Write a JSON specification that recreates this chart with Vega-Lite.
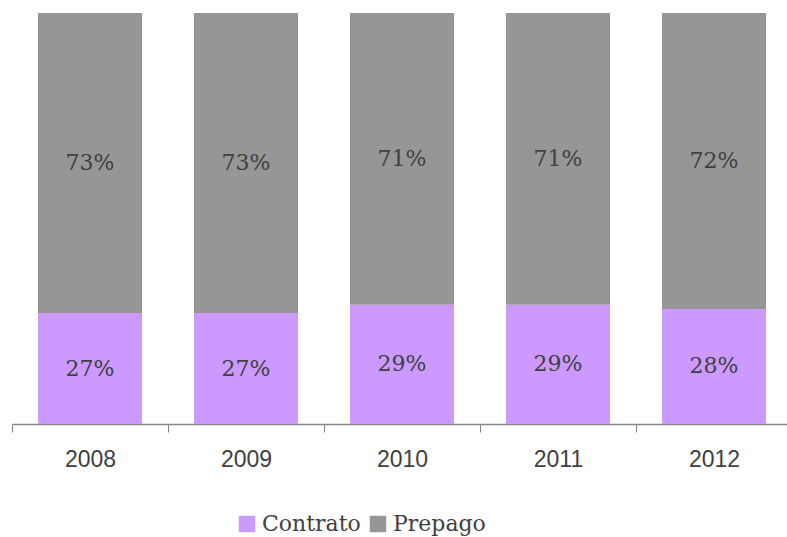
{
  "$schema": "https://vega.github.io/schema/vega-lite/v6.json",
  "width": 780,
  "height": 411,
  "padding": {"left": 12, "top": 13, "right": 0, "bottom": 113},
  "autosize": {"type": "none"},
  "background": "white",
  "config": {"view": {"stroke": null}},
  "data": {
    "values": [
      {"year": "2008", "tipo": "Contrato", "share": 0.27},
      {"year": "2008", "tipo": "Prepago", "share": 0.73},
      {"year": "2009", "tipo": "Contrato", "share": 0.27},
      {"year": "2009", "tipo": "Prepago", "share": 0.73},
      {"year": "2010", "tipo": "Contrato", "share": 0.29},
      {"year": "2010", "tipo": "Prepago", "share": 0.71},
      {"year": "2011", "tipo": "Contrato", "share": 0.29},
      {"year": "2011", "tipo": "Prepago", "share": 0.71},
      {"year": "2012", "tipo": "Contrato", "share": 0.28},
      {"year": "2012", "tipo": "Prepago", "share": 0.72}
    ]
  },
  "encoding": {
    "x": {
      "field": "year", "type": "nominal",
      "scale": {"paddingInner": 0.3333, "paddingOuter": 0.1667},
      "axis": {
        "title": null, "labelAngle": 0, "labelFont": "Liberation Sans", "labelFontSize": 23,
        "labelColor": "#404040", "domainColor": "#868686", "tickColor": "#868686",
        "tickSize": 8, "bandPosition": 0, "tickOffset": -26, "labelOffset": 26, "labelPadding": 16, "domainWidth": 1.5
      }
    },
    "y": {
      "field": "share", "type": "quantitative", "stack": "zero",
      "scale": {"domain": [0, 1]},
      "axis": null
    }
  },
  "layer": [
    {
      "mark": {"type": "bar"},
      "encoding": {
        "color": {
          "field": "tipo", "type": "nominal",
          "scale": {"domain": ["Contrato", "Prepago"], "range": ["#CC99FF", "#969696"]},
          "legend": {
            "title": null, "orient": "none", "direction": "horizontal",
            "legendX": 224, "legendY": 500,
            "symbolType": "square", "symbolSize": 270, "symbolStrokeWidth": 0,
            "labelFont": "DejaVu Serif", "labelFontSize": 22, "labelColor": "#404040",
            "columnPadding": 6, "labelOffset": 4
          }
        },
        "order": {"field": "tipo", "sort": "ascending"}
      }
    },
    {
      "mark": {"type": "text", "font": "DejaVu Serif", "fontSize": 22, "color": "#404040"},
      "encoding": {
        "y": {"field": "share", "type": "quantitative", "stack": "zero", "bandPosition": 0.5},
        "text": {"field": "share", "type": "quantitative", "format": ".0%"},
        "detail": {"field": "tipo"},
        "order": {"field": "tipo", "sort": "ascending"}
      }
    }
  ]
}
